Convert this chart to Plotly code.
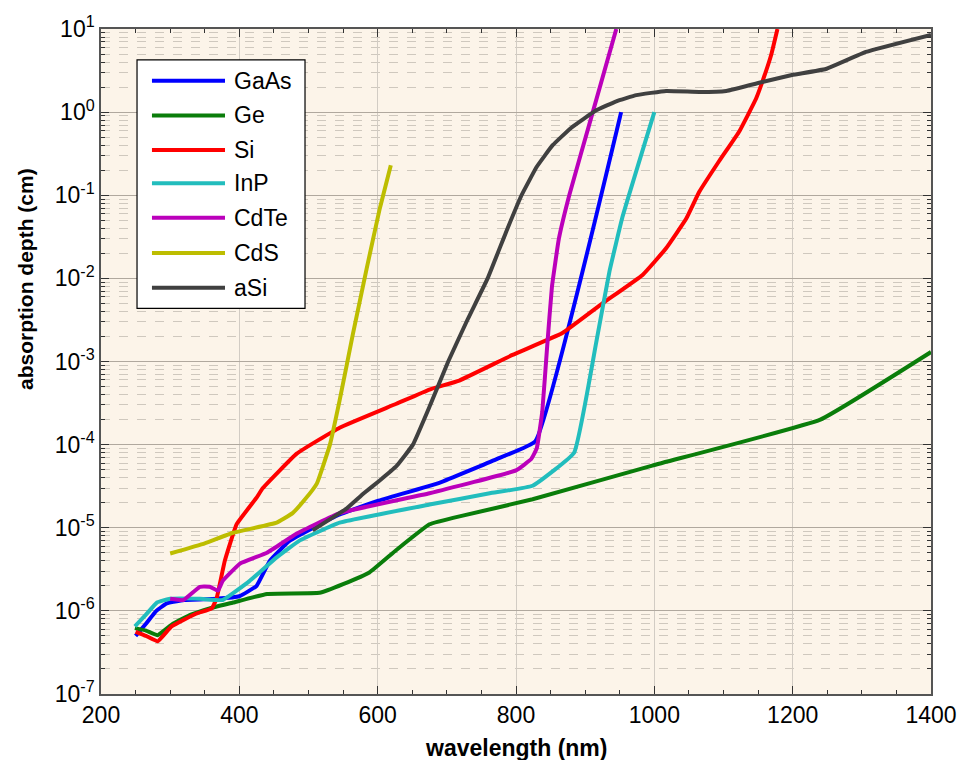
import plotly.graph_objects as go

# ---- data (wavelength nm, absorption depth cm) ----
gaas_x = [250, 265, 280, 295, 320, 367, 400, 425, 444, 473, 541, 600, 690, 772, 828, 952]
gaas_y = [5e-7, 7e-7, 1.0e-6, 1.23e-6, 1.35e-6, 1.4e-6, 1.5e-6, 2.0e-6, 4e-6, 7e-6, 1.4e-5, 2.1e-5, 3.5e-5, 6.7e-5, 1.1e-4, 1.0]

ge_x = [249, 265, 282, 304, 330, 357, 391, 440, 516, 550, 588, 627, 675, 723, 824, 997, 1240, 1400]
ge_y = [6.2e-7, 5.8e-7, 5.1e-7, 7e-7, 9e-7, 1.07e-6, 1.26e-6, 1.6e-6, 1.65e-6, 2.1e-6, 2.9e-6, 5.4e-6, 1.1e-5, 1.4e-5, 2.2e-5, 5.6e-5, 2.0e-4, 1.3e-3]

si_x = [250, 265, 282, 302, 338, 360, 367, 379, 396, 425, 434, 483, 545, 627, 675, 718, 795, 867, 925, 983, 1017, 1046, 1065, 1094, 1123, 1147, 1156, 1169, 1178]
si_y = [5.6e-7, 5.0e-7, 4.3e-7, 6.5e-7, 9.3e-7, 1.07e-6, 1.4e-6, 4e-6, 1.1e-5, 2.3e-5, 3e-5, 7.8e-5, 1.6e-4, 3.1e-4, 4.6e-4, 5.9e-4, 1.2e-3, 2.2e-3, 5e-3, 1.1e-2, 2.3e-2, 5.2e-2, 0.11, 0.26, 0.59, 1.45, 2.3, 4.9, 10]

inp_x = [249, 265, 281, 300, 343, 376, 415, 454, 487, 545, 675, 762, 824, 884, 916, 935, 954, 1000]
inp_y = [6.5e-7, 9e-7, 1.26e-6, 1.4e-6, 1.4e-6, 1.35e-6, 2.3e-6, 4.4e-6, 7e-6, 1.15e-5, 1.9e-5, 2.6e-5, 3.2e-5, 8e-5, 1.7e-3, 1.2e-2, 5.5e-2, 1.0]

cdte_x = [300, 319, 343, 357, 369, 376, 401, 440, 483, 545, 675, 800, 822, 830, 838, 845, 852, 862, 877, 911, 945]
cdte_y = [1.4e-6, 1.35e-6, 1.95e-6, 1.95e-6, 1.75e-6, 2.3e-6, 3.7e-6, 5e-6, 8.5e-6, 1.5e-5, 2.6e-5, 4.9e-5, 6.7e-5, 9e-5, 2.5e-4, 1.5e-3, 8e-3, 3e-2, 0.1, 1.0, 10]

cds_x = [300, 350, 391, 454, 477, 495, 512, 531, 545, 564, 584, 603, 619]
cds_y = [4.9e-6, 6.5e-6, 8.7e-6, 1.15e-5, 1.5e-5, 2.2e-5, 3.4e-5, 1.0e-4, 3.4e-4, 2.1e-3, 1.3e-2, 6.9e-2, 0.23]

asi_x = [506, 530, 555, 580, 603, 627, 651, 676, 702, 730, 759, 785, 808, 830, 853, 880, 916, 945, 974, 1017, 1065, 1104, 1156, 1199, 1248, 1306, 1400]
asi_y = [9.3e-6, 1.25e-5, 1.7e-5, 2.6e-5, 3.7e-5, 5.5e-5, 1.0e-4, 3.0e-4, 1.0e-3, 3.2e-3, 1.0e-2, 3.5e-2, 0.1, 0.22, 0.4, 0.65, 1.05, 1.35, 1.6, 1.8, 1.75, 1.8, 2.3, 2.8, 3.3, 5.3, 8.5]

names = ["GaAs", "Ge", "Si", "InP", "CdTe", "CdS", "aSi"]
colors = ["#0000FF", "#0A7D0A", "#FF0000", "#22BDBD", "#BB00BB", "#BDBD00", "#404040"]
series = [(gaas_x, gaas_y), (ge_x, ge_y), (si_x, si_y), (inp_x, inp_y),
          (cdte_x, cdte_y), (cds_x, cds_y), (asi_x, asi_y)]

y_tick_exps = [-7, -6, -5, -4, -3, -2, -1, 0, 1]
x_ticks = [200, 400, 600, 800, 1000, 1200, 1400]

FONT = "Arial, Liberation Sans, sans-serif"

fig = go.Figure()
for (xs, ys), name, col in zip(series, names, colors):
    fig.add_trace(go.Scatter(x=xs, y=ys, mode="lines", name=name,
                             line=dict(color=col, width=4, shape="spline", smoothing=0.3),
                             showlegend=False))

minor_vals = [m * 10 ** e for e in range(-7, 1) for m in range(2, 10)]

fig.update_layout(
    width=975, height=760,
    margin=dict(l=101, r=44, t=27, b=66),
    paper_bgcolor="white",
    plot_bgcolor="#FCF4E9",
    font=dict(family=FONT, color="black"),
    xaxis=dict(
        range=[200, 1400], tickvals=x_ticks, ticktext=[str(v) for v in x_ticks],
        ticks="inside", ticklen=8, tickwidth=1.2, tickcolor="#333",
        showline=True, linecolor="#555", linewidth=1.5, mirror="ticks",
        showgrid=True, gridcolor="#D2CCC4", gridwidth=1,
        zeroline=False,
        tickfont=dict(size=23, family=FONT, color="black"),
        minor=dict(dtick=50, ticks="inside", ticklen=4, tickcolor="#333", showgrid=False),
    ),
    yaxis=dict(
        type="log", range=[-7, 1],
        tickvals=[10.0 ** e for e in y_tick_exps],
        ticktext=["10<sup>%d</sup>" % e for e in y_tick_exps],
        ticks="inside", ticklen=8, tickwidth=1.2, tickcolor="#333",
        showline=True, linecolor="#555", linewidth=1.5, mirror="ticks",
        showgrid=True, gridcolor="#B0A89E", gridwidth=1,
        zeroline=False,
        tickfont=dict(size=23, family=FONT, color="black"),
        minor=dict(tickmode="array", tickvals=minor_vals, ticks="inside", ticklen=4,
                   tickcolor="#333", showgrid=True, gridcolor="#CFC8BE", griddash="dash",
                   gridwidth=1),
    ),
)

# axis titles
fig.add_annotation(text="<b>wavelength (nm)</b>", xref="paper", yref="paper",
                   x=0.5, y=-0.081, yanchor="middle", showarrow=False,
                   font=dict(size=23, family=FONT, color="black"))
fig.add_annotation(text="<b>absorption depth (cm)</b>", xref="paper", yref="paper",
                   x=-0.0916, y=0.624, textangle=-90, showarrow=False,
                   xanchor="center", yanchor="middle",
                   font=dict(size=21, family=FONT, color="black"))

# legend box (drawn manually to match long line samples)
lx0, lx1, ly0, ly1 = 0.0434, 0.2458, 0.580, 0.9535
fig.add_shape(type="rect", xref="paper", yref="paper", x0=lx0, x1=lx1, y0=ly0, y1=ly1,
              fillcolor="white", line=dict(color="black", width=1.2), layer="above")
row_y = [0.922, 0.870, 0.818, 0.768, 0.716, 0.663, 0.611]
for name, col, yy in zip(names, colors, row_y):
    fig.add_shape(type="line", xref="paper", yref="paper", x0=0.0614, x1=0.1494,
                  y0=yy, y1=yy, line=dict(color=col, width=4), layer="above")
    fig.add_annotation(text=name, xref="paper", yref="paper", x=0.158, y=yy,
                       xanchor="left", yanchor="middle", showarrow=False,
                       font=dict(size=23, family=FONT, color="black"))

fig.write_html("out.html", config={"displayModeBar": False},
               post_script="document.body.style.margin='0px';")
